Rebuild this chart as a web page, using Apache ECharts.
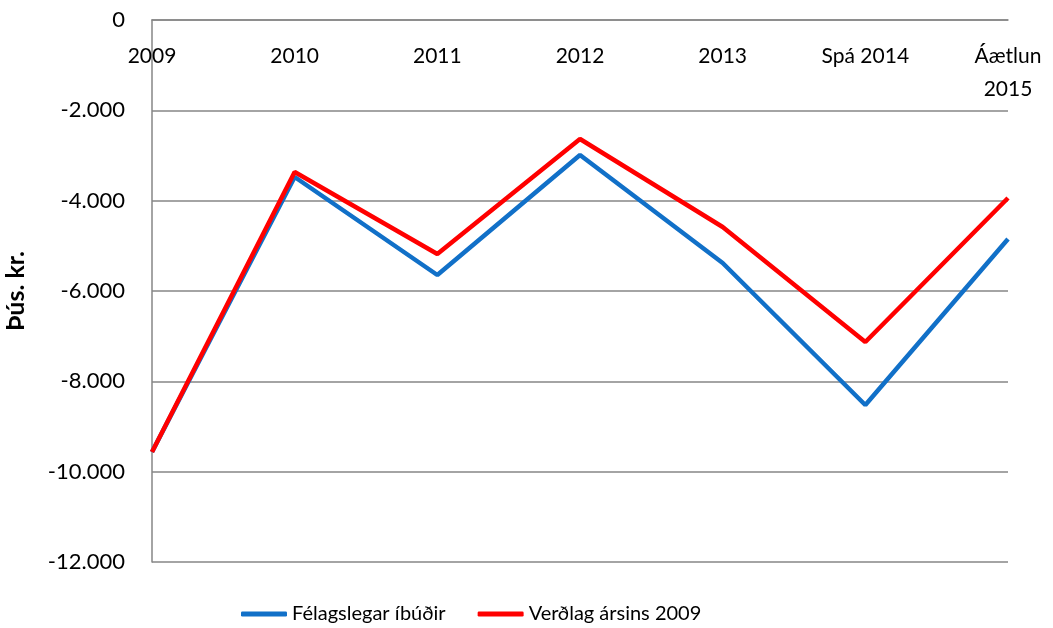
<!DOCTYPE html>
<html>
<head>
<meta charset="utf-8">
<script src="https://cdn.jsdelivr.net/npm/echarts@6/dist/echarts.min.js"></script>
<style>
  html, body { margin: 0; padding: 0; background: #fff; }
  #chart { width: 1053px; height: 628px; }
</style>
</head>
<body>
<div id="chart"></div>
<script>
  // ár
  var categories = ["2009", "2010", "2011", "2012", "2013", "Spá 2014", "Áætlun\n2015"];
  var felagslegar = [-9565, -3476, -5646, -2989, -5380, -8524, -4849];
  var verdlag = [-9565, -3365, -5181, -2635, -4583, -7129, -3941];
  var seriesNames = ["Félagslegar íbúðir", "Verðlag ársins 2009"];
  var yTicks = { min: -12000, max: 0, interval: 2000 };

  var font = "Lato";
  var gray = "#868686";

  function fmt(v) {
    var s = Math.abs(v).toString();
    s = s.replace(/\B(?=(\d{3})+(?!\d))/g, ".");
    return (v < 0 ? "-" : "") + s;
  }

  var chart = echarts.init(document.getElementById("chart"));
  chart.setOption({
    backgroundColor: "#fff",
    animation: false,
    textStyle: { fontFamily: font },
    grid: { left: 152, right: 45, top: 20, bottom: 66, outerBoundsMode: "none" },
    legend: {
      top: 599,
      left: 236,
      itemWidth: 46,
      itemHeight: 5,
      itemGap: 32,
      icon: "roundRect",
      textStyle: { fontSize: 20, color: "#000", fontFamily: font },
      data: seriesNames
    },
    xAxis: {
      type: "category",
      position: "top",
      data: categories,
      boundaryGap: false,
      axisLine: { lineStyle: { color: gray, width: 1.5 } },
      axisTick: { show: false },
      axisLabel: {
        inside: true,
        interval: 0,
        color: "#000",
        fontSize: 21,
        margin: 20,
        lineHeight: 33,
        verticalAlign: "top"
      },
      splitLine: { show: false }
    },
    yAxis: {
      type: "value",
      min: yTicks.min,
      max: yTicks.max,
      interval: yTicks.interval,
      name: "Þús. kr.",
      nameLocation: "middle",
      nameGap: 124,
      nameRotate: 90,
      nameTextStyle: { fontSize: 25, fontWeight: "bold", color: "#000" },
      axisLine: { show: true, lineStyle: { color: gray, width: 1.5 } },
      axisTick: { show: false },
      axisLabel: {
        color: "#000",
        fontSize: 22,
        margin: 27,
        formatter: fmt
      },
      splitLine: { show: true, lineStyle: { color: gray, width: 1.5 } }
    },
    series: [
      {
        name: seriesNames[0],
        type: "line",
        data: felagslegar,
        symbol: "none",
        lineStyle: { color: "#1170C8", width: 4.5 },
        itemStyle: { color: "#1170C8" }
      },
      {
        name: seriesNames[1],
        type: "line",
        data: verdlag,
        symbol: "none",
        lineStyle: { color: "#FF0000", width: 4.5 },
        itemStyle: { color: "#FF0000" }
      }
    ]
  });
</script>
</body>
</html>
